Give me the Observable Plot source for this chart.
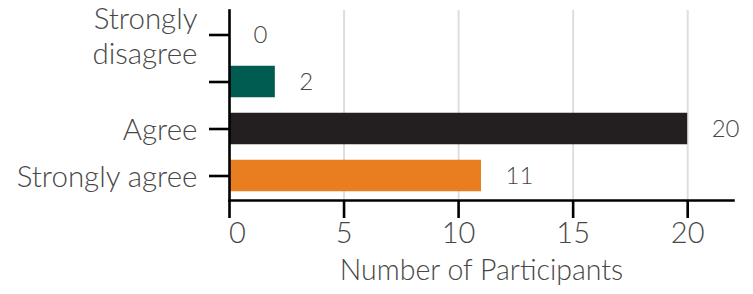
<!DOCTYPE html>
<html><head><meta charset="utf-8">
<script src="https://cdn.jsdelivr.net/npm/d3@7"></script>
<script src="https://cdn.jsdelivr.net/npm/@observablehq/plot@0.6"></script>
<style>body{margin:0;background:#fff}</style>
</head><body><div id="chart"></div>
<script>
const categories = ["Strongly disagree", "Disagree", "Agree", "Strongly agree"];
const tickLabels = ["Strongly\ndisagree", "", "Agree", "Strongly agree"];
const values = [0, 2, 20, 11];
const colors = ["#8a9a5b", "#005b50", "#231f20", "#e87e20"];
const xTicks = [0, 5, 10, 15, 20];
const xLabel = "Number of Participants";

const data = categories.map((c, i) => ({category: c, value: values[i], color: colors[i]}));
const txt = "#474747";
const lw = 2.6;

const chart = Plot.plot({
  width: 753,
  height: 294,
  marginLeft: 229,
  marginRight: 20,
  marginTop: 10,
  marginBottom: 94,
  style: {fontFamily: "Lato, sans-serif", fontWeight: 300, background: "#fff"},
  x: {domain: [0, 22], label: null},
  y: {domain: categories, padding: 0, label: null},
  marks: [
    Plot.gridX(xTicks.slice(1), {stroke: "#dedede", strokeOpacity: 1, strokeWidth: 2}),
    Plot.barX(data, {x: "value", y: "category", fill: "color", insetTop: 7.75, insetBottom: 7.75}),
    Plot.text(data, {x: "value", y: "category", text: d => String(d.value), dx: 24, textAnchor: "start", fontSize: 24, fontWeight: 300, fill: txt}),
    Plot.frame({anchor: "left", stroke: "black", strokeWidth: lw}),
    Plot.frame({anchor: "bottom", stroke: "black", strokeWidth: lw}),
    Plot.axisY({tickSize: 20, tickPadding: 12, stroke: "black", strokeWidth: lw, fill: txt, fontSize: 29.5, fontWeight: 300, lineHeight: 1.2,
      tickFormat: d => tickLabels[categories.indexOf(d)], label: null}),
    Plot.axisX(xTicks, {tickSize: 18, stroke: "black", strokeWidth: lw, tickFormat: () => "", label: null}),
    Plot.axisX([xTicks[0]], {tickSize: 0, tickPadding: 22, dx: 8, fill: txt, fontSize: 29, fontWeight: 300, label: null}),
    Plot.axisX(xTicks.slice(1), {tickSize: 0, tickPadding: 22, fill: txt, fontSize: 29, fontWeight: 300, label: null}),
    Plot.text([xLabel], {frameAnchor: "bottom", dy: 79, fontSize: 28.5, fontWeight: 300, fill: txt})
  ]
});
document.getElementById("chart").appendChild(chart);
</script>
</body></html>
